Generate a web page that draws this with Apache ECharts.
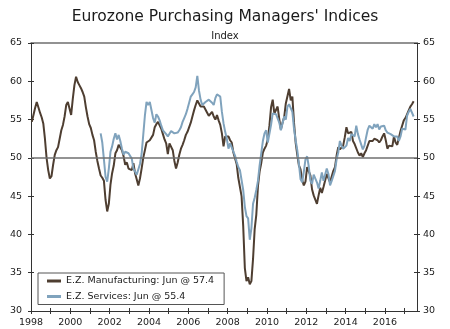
<!DOCTYPE html>
<html>
<head>
<meta charset="utf-8">
<script src="https://cdn.jsdelivr.net/npm/echarts@6/dist/echarts.min.js"></script>
<style>
html,body{margin:0;padding:0;background:#fff;}
#chart{width:450px;height:329px;}
</style>
</head>
<body>
<div id="chart"></div>
<script>
// Monthly Eurozone manufacturing PMI, Jan 1998 - Jun 2017 (one row per year)
var manufacturing = [
  54.7, 55.6, 56.5, 57.3, 56.6, 55.9, 55.3, 54.5, 52.5, 50.0, 48.4, 47.3, // 1998
  47.6, 49.1, 50.4, 51.0, 51.4, 52.5, 53.6, 54.3, 55.4, 56.9, 57.3, 57.1, // 1999
  55.6, 57.7, 59.5, 60.6, 59.9, 59.5, 59.1, 58.6, 58.0, 56.6, 55.4, 54.4, // 2000
  53.9, 53.0, 52.3, 50.8, 49.6, 48.6, 47.7, 47.4, 47.0, 44.5, 43.0, 44.0, // 2001
  46.5, 48.0, 49.0, 50.6, 51.0, 51.7, 51.9, 51.0, 50.2, 49.1, 49.4, 48.6, // 2002
  48.5, 48.4, 49.3, 48.0, 47.2, 46.4, 47.3, 48.6, 50.0, 51.0, 52.0, 52.0, // 2003
  52.3, 52.4, 53.0, 54.0, 54.4, 54.7, 54.5, 53.8, 53.1, 52.4, 51.9, 50.5, // 2004
  51.9, 51.7, 51.0, 49.6, 48.6, 49.4, 50.4, 51.2, 51.7, 52.3, 53.0, 53.4, // 2005
  53.6, 54.6, 55.4, 56.2, 56.9, 57.5, 57.7, 56.7, 56.6, 56.7, 56.5, 55.9, // 2006
  55.5, 55.6, 56.0, 55.4, 55.0, 55.6, 54.9, 54.3, 53.2, 51.5, 52.8, 52.6, // 2007
  52.8, 52.3, 52.0, 50.7, 50.6, 49.2, 47.4, 47.6, 45.0, 41.1, 35.6, 33.9, // 2008
  34.4, 33.5, 33.9, 36.8, 40.7, 42.6, 46.3, 48.2, 49.3, 50.7, 51.2, 51.6, // 2009
  52.4, 54.2, 56.6, 57.6, 55.8, 55.6, 56.7, 55.1, 53.7, 54.6, 55.3, 57.1, // 2010
  57.3, 59.0, 57.5, 58.0, 54.6, 52.0, 50.4, 49.0, 48.5, 47.1, 46.4, 46.9, // 2011
  48.8, 49.0, 47.7, 45.9, 45.1, 45.1, 44.0, 45.1, 46.1, 45.4, 46.2, 46.1, // 2012
  47.9, 47.9, 46.8, 46.7, 48.3, 48.8, 50.3, 51.4, 51.1, 51.3, 51.6, 52.7, // 2013
  54.0, 53.2, 53.0, 53.4, 52.2, 51.8, 51.8, 50.7, 50.3, 50.6, 50.1, 50.6, // 2014
  51.0, 51.0, 52.2, 52.0, 52.2, 52.5, 52.4, 52.3, 52.0, 52.3, 52.8, 53.2, // 2015
  52.3, 51.2, 51.6, 51.7, 51.5, 52.8, 52.0, 51.7, 52.6, 53.5, 53.7, 54.9, // 2016
  55.2, 55.4, 56.2, 56.7, 57.0, 57.4                                      // 2017
];
var manufacturingStart = [1998, 1]; // year, month

// Monthly Eurozone services PMI, Jul 2001 - Jun 2017
var services = [
                                      53.2, 52.0, 49.8, 47.5, 46.9, 48.6, // 2001
  50.8, 51.5, 52.5, 53.2, 52.4, 53.0, 52.2, 51.2, 50.4, 50.8, 50.8, 50.6, // 2002
  50.4, 49.9, 48.6, 48.2, 47.8, 47.9, 49.2, 50.5, 53.0, 55.5, 57.3, 56.9, // 2003
  57.3, 57.2, 55.2, 54.6, 55.7, 55.4, 54.9, 54.2, 53.6, 53.4, 53.1, 52.8, // 2004
  53.0, 53.5, 53.3, 53.2, 53.4, 53.3, 53.6, 54.0, 54.7, 55.2, 55.7, 56.4, // 2005
  57.2, 58.0, 58.3, 58.6, 59.2, 60.7, 58.8, 57.6, 56.9, 57.1, 57.3, 57.5, // 2006
  57.6, 57.5, 57.2, 56.9, 57.8, 58.3, 58.2, 58.0, 56.0, 54.5, 53.4, 52.5, // 2007
  51.2, 51.9, 51.8, 50.8, 50.3, 49.5, 48.8, 48.4, 48.2, 45.8, 43.6, 42.4, // 2008
  42.1, 39.3, 40.8, 44.0, 44.8, 45.8, 47.0, 49.0, 50.6, 52.2, 53.2, 53.6, // 2009
  52.0, 51.8, 54.3, 55.8, 56.0, 55.7, 55.6, 54.6, 53.6, 53.4, 55.4, 55.0, // 2010
  56.7, 57.0, 57.2, 56.0, 53.8, 52.3, 51.0, 49.2, 47.2, 46.8, 48.2, 49.8, // 2011
  50.2, 48.9, 47.0, 46.6, 47.8, 47.6, 46.8, 46.0, 47.0, 48.1, 47.0, 47.0, // 2012
  48.6, 47.9, 46.4, 47.0, 47.2, 48.3, 49.8, 50.7, 52.2, 51.6, 51.2, 51.0, // 2013
  51.6, 52.6, 52.2, 53.1, 53.2, 52.8, 54.2, 53.1, 52.4, 52.3, 51.1, 51.6, // 2014
  52.7, 53.7, 54.2, 54.1, 53.8, 54.4, 54.0, 54.4, 53.7, 54.1, 54.2, 54.2, // 2015
  53.6, 53.3, 53.1, 53.1, 53.3, 52.8, 52.9, 52.8, 52.2, 52.8, 53.8, 53.7, // 2016
  53.7, 55.5, 56.0, 56.4, 56.3, 55.4                                      // 2017
];
var servicesStart = [2001, 7];

var yTicks = [30, 35, 40, 45, 50, 55, 60, 65];
var xLabelYears = [1998, 2000, 2002, 2004, 2006, 2008, 2010, 2012, 2014, 2016];
var seriesNames = ['E.Z. Manufacturing: Jun @ 57.4', 'E.Z. Services: Jun @ 55.4'];
var titleText = "Eurozone Purchasing Managers' Indices";
var subTitleText = 'Index';

function toPoints(values, start) {
  var out = [];
  for (var i = 0; i < values.length; i++) {
    var mIdx = (start[1] - 1) + i;
    out.push([start[0] + (mIdx + 0.5) / 12, values[i]]);
  }
  return out;
}

var FONT = 'DejaVu Sans';
var TXT = '#1a1a1a';
var AX = '#333333';
var XMIN = 1998, XMAX = 2017.63;
var YMIN = yTicks[0], YMAX = yTicks[yTicks.length - 1];

function xAxisBase(extra) {
  var a = {
    type: 'value', min: XMIN, max: XMAX, interval: 1, position: 'bottom',
    axisLine: { show: false, onZero: false },
    axisTick: { show: false },
    axisLabel: { show: false },
    splitLine: { show: false }
  };
  for (var k in extra) a[k] = extra[k];
  return a;
}
function yAxisBase(extra) {
  var a = {
    type: 'value', min: YMIN, max: YMAX, interval: 5,
    axisLine: { show: false, onZero: false },
    axisTick: { show: false },
    axisLabel: { show: false },
    splitLine: { show: false }
  };
  for (var k in extra) a[k] = extra[k];
  return a;
}

var labelStyle = { fontFamily: FONT, fontSize: 9.5, color: TXT };

var chart = echarts.init(document.getElementById('chart'), null, { renderer: 'canvas' });
chart.setOption({
  animation: false,
  backgroundColor: '#ffffff',
  title: [
    { text: titleText, left: 'center', top: 4,
      textStyle: { fontFamily: FONT, fontSize: 15.5, fontWeight: 'normal', color: TXT } },
    { text: subTitleText, left: 'center', top: 26,
      textStyle: { fontFamily: FONT, fontSize: 10, fontWeight: 'normal', color: TXT } }
  ],
  grid: { left: 31, right: 33, top: 43, bottom: 18, containLabel: false },
  legend: {
    orient: 'vertical', left: 38, top: 273,
    padding: [2, 10, 2, 9], itemGap: 3.5, itemWidth: 14, itemHeight: 3,
    icon: 'rect',
    borderColor: '#555555', borderWidth: 1, backgroundColor: '#ffffff',
    textStyle: { fontFamily: FONT, fontSize: 9.5, color: TXT, lineHeight: 12 },
    data: seriesNames
  },
  xAxis: [
    xAxisBase({
      axisLine: { show: true, onZero: false, lineStyle: { color: AX, width: 1 } },
      axisTick: { show: true, length: 3, lineStyle: { color: AX, width: 1 } },
      axisLabel: Object.assign({ show: true, margin: 7, showMaxLabel: false, showMinLabel: true,
        formatter: function (v) { return xLabelYears.indexOf(Math.round(v * 1000) / 1000) >= 0 ? String(v) : ''; } }, labelStyle)
    }),
    xAxisBase({
      axisTick: { show: true, inside: true, length: 3, lineStyle: { color: AX, width: 1 } }
    }),
    xAxisBase({
      position: 'top',
      axisLine: { show: true, onZero: false, lineStyle: { color: '#6f6f6f', width: 1.5 } }
    })
  ],
  yAxis: [
    yAxisBase({
      position: 'left',
      axisLine: { show: true, onZero: false, lineStyle: { color: AX, width: 1 } },
      axisTick: { show: true, length: 3, lineStyle: { color: AX, width: 1 } },
      axisLabel: Object.assign({ show: true, margin: 9 }, labelStyle)
    }),
    yAxisBase({
      position: 'left',
      axisTick: { show: true, inside: true, length: 3, lineStyle: { color: AX, width: 1 } }
    }),
    yAxisBase({
      position: 'right',
      axisLine: { show: true, onZero: false, lineStyle: { color: AX, width: 1 } },
      axisTick: { show: true, length: 3, lineStyle: { color: AX, width: 1 } },
      axisLabel: Object.assign({ show: true, margin: 6 }, labelStyle)
    }),
    yAxisBase({
      position: 'right',
      axisTick: { show: true, inside: true, length: 3, lineStyle: { color: AX, width: 1 } }
    })
  ],
  series: [
    {
      name: seriesNames[0], type: 'line', xAxisIndex: 0, yAxisIndex: 0,
      data: toPoints(manufacturing, manufacturingStart),
      symbol: 'none', smooth: false,
      lineStyle: { color: '#4e3e31', width: 2 },
      itemStyle: { color: '#4e3e31' },
      markLine: {
        silent: true, symbol: ['none', 'none'],
        label: { show: false },
        lineStyle: { color: '#6f6f6f', width: 1.5, type: 'solid' },
        data: [{ yAxis: 50 }]
      }
    },
    {
      name: seriesNames[1], type: 'line', xAxisIndex: 0, yAxisIndex: 0,
      data: toPoints(services, servicesStart),
      symbol: 'none', smooth: false,
      lineStyle: { color: '#80a3bd', width: 2 },
      itemStyle: { color: '#80a3bd' }
    }
  ]
});
</script>
</body>
</html>
